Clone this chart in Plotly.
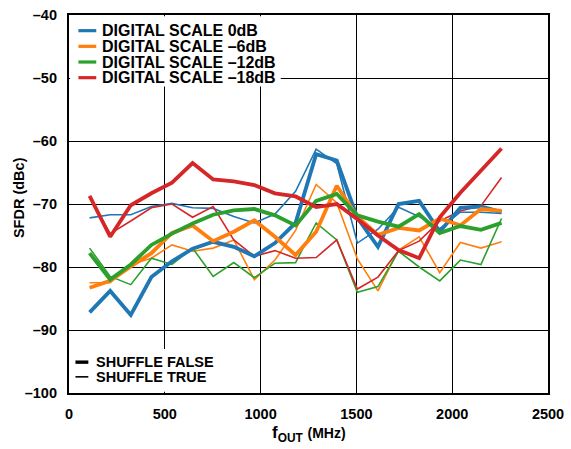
import plotly.graph_objects as go

# ---------------- data ----------------
f_out = [107.5, 215, 322.5, 430, 537.5, 645, 752.5, 860, 967.5, 1075, 1182.5,
         1290, 1397.5, 1505, 1612.5, 1720, 1827.5, 1935, 2042.5, 2150, 2257.5]

ds0_false = [-87.2, -83.8, -87.6, -81.6, -79.1, -77.1, -76.0, -76.8, -78.3, -76.2, -73.0,
             -62.1, -63.1, -72.2, -76.8, -70.0, -69.5, -74.4, -70.6, -70.4, -71.3]
ds0_true = [-72.2, -71.7, -71.7, -70.4, -69.9, -70.6, -70.7, -72.0, -73.0, -71.6, -68.0,
            -61.3, -63.6, -76.2, -74.0, -70.5, -72.0, -73.9, -71.3, -71.3, -71.5]
ds6_false = [-83.3, -82.2, -79.9, -77.8, -74.6, -73.4, -75.9, -74.4, -72.6, -75.2, -78.1,
             -74.4, -67.1, -72.0, -74.9, -73.8, -74.2, -72.3, -73.4, -70.8, -71.1]
ds6_true = [-82.5, -82.5, -79.6, -78.6, -76.5, -77.5, -77.0, -75.7, -82.0, -78.9, -74.2,
            -66.9, -69.8, -78.7, -83.8, -77.3, -75.2, -80.9, -76.1, -77.0, -76.0]
ds12_false = [-77.8, -82.0, -79.6, -76.5, -74.7, -73.1, -71.7, -71.0, -70.8, -71.8, -73.4,
              -69.5, -68.4, -71.8, -72.8, -73.6, -71.6, -74.6, -73.5, -74.1, -73.0]
ds12_true = [-77.0, -81.5, -82.8, -78.6, -79.6, -77.0, -81.5, -79.3, -81.7, -79.4, -79.3,
             -73.0, -75.7, -84.0, -83.1, -77.5, -80.0, -82.2, -78.9, -79.6, -72.3]
ds18_false = [-68.7, -75.2, -70.2, -68.3, -66.6, -63.5, -66.1, -66.4, -67.0, -68.3, -68.8,
              -70.5, -70.0, -72.4, -75.0, -77.3, -78.6, -72.1, -68.2, -64.7, -61.2]
ds18_true = [-69.0, -74.7, -72.7, -70.6, -70.0, -72.1, -70.4, -75.7, -78.3, -77.4, -78.6,
             -78.5, -75.7, -83.5, -81.6, -77.4, -75.9, -72.7, -71.1, -70.3, -65.8]

series_names = ["DIGITAL SCALE 0dB", "DIGITAL SCALE \u20136dB",
                "DIGITAL SCALE \u201312dB", "DIGITAL SCALE \u201318dB"]
shuffle_names = ["SHUFFLE FALSE", "SHUFFLE TRUE"]

y_ticks = [-40, -50, -60, -70, -80, -90, -100]
y_ticktext = ["\u201340", "\u201350", "\u201360", "\u201370", "\u201380", "\u201390", "\u2013100"]
x_ticks = [0, 500, 1000, 1500, 2000, 2500]
x_ticktext = ["0", "500", "1000", "1500", "2000", "2500"]

# ---------------- style ----------------
colors = ["#1f77b4", "#ff7f0e", "#2ca02c", "#d62728"]
THICK = 3.8
THIN = 1.6
FONT = "Liberation Sans, Arial, Helvetica, sans-serif"

false_sets = [ds0_false, ds6_false, ds12_false, ds18_false]
true_sets = [ds0_true, ds6_true, ds12_true, ds18_true]

fig = go.Figure()
for name, c, ys in zip(series_names, colors, true_sets):
    fig.add_trace(go.Scatter(x=f_out, y=ys, mode="lines", name=name + " (shuffle true)",
                             line=dict(color=c, width=THIN), showlegend=False))
for name, c, ys in zip(series_names, colors, false_sets):
    fig.add_trace(go.Scatter(x=f_out, y=ys, mode="lines", name=name + " (shuffle false)",
                             line=dict(color=c, width=THICK), showlegend=False))

# plot area in pixels (for placing the legend blocks)
L, R, T, B = 68.5, 551.5, 7.0, 393.0
W, H = 571, 449


def px(xp):
    return (xp - L) / (R - L)


def py(yp):
    return (B - yp) / (B - T)


shapes = []
annotations = []

# top legend box
shapes.append(dict(type="rect", xref="paper", yref="paper", layer="above",
                   x0=px(69.6), x1=px(282), y0=py(80), y1=py(8.2),
                   fillcolor="white", line=dict(width=0)))
row_y = [23, 39, 55, 71]
for name, c, ry in zip(series_names, colors, row_y):
    shapes.append(dict(type="line", xref="paper", yref="paper", layer="above",
                       x0=px(78), x1=px(96), y0=py(ry), y1=py(ry),
                       line=dict(color=c, width=3.2)))
    annotations.append(dict(x=px(100), y=py(ry), xref="paper", yref="paper",
                            text=name, showarrow=False, xanchor="left", yanchor="middle",
                            font=dict(family=FONT, size=16, color="black", weight="bold")))

# bottom legend box
shapes.append(dict(type="rect", xref="paper", yref="paper", layer="above",
                   x0=px(69.6), x1=px(235), y0=py(391.8), y1=py(348),
                   fillcolor="white", line=dict(width=0)))
for name, w, ry in zip(shuffle_names, [3.4, 1.6], [361.5, 376.5]):
    shapes.append(dict(type="line", xref="paper", yref="paper", layer="above",
                       x0=px(75), x1=px(88), y0=py(ry), y1=py(ry),
                       line=dict(color="black", width=w)))
    annotations.append(dict(x=px(94), y=py(ry), xref="paper", yref="paper",
                            text=name, showarrow=False, xanchor="left", yanchor="middle",
                            font=dict(family=FONT, size=14.5, color="black", weight="bold")))

# axis titles
annotations.append(dict(x=px(18), y=py(193), xref="paper", yref="paper",
                        text="SFDR (dBc)", textangle=-90, showarrow=False,
                        xanchor="center", yanchor="middle",
                        font=dict(family=FONT, size=14.5, color="black", weight="bold")))
annotations.append(dict(x=px(310), y=py(435), xref="paper", yref="paper",
                        text="f<sub>OUT</sub> <span style='font-size:14px'>(MHz)</span>",
                        showarrow=False, xanchor="center", yanchor="middle",
                        font=dict(family=FONT, size=17, color="black", weight="bold")))

axis_common = dict(showgrid=True, gridcolor="black", gridwidth=1.3,
                   showline=True, linecolor="black", linewidth=2.2, mirror=True,
                   zeroline=False, ticks="",
                   tickfont=dict(family=FONT, size=14.5, color="black", weight="bold"))

fig.update_layout(
    width=W, height=H,
    margin=dict(l=L, r=W - R, t=T, b=H - B, pad=0),
    paper_bgcolor="white", plot_bgcolor="white",
    showlegend=False,
    xaxis=dict(range=[0, 2500], tickvals=x_ticks, ticktext=x_ticktext,
               ticklabelstandoff=6, **axis_common),
    yaxis=dict(range=[-100, -40], tickvals=y_ticks, ticktext=y_ticktext,
               ticklabelstandoff=7, **axis_common),
    shapes=shapes,
    annotations=annotations,
)

fig.write_html(
    "out.html",
    config={"displayModeBar": False},
    post_script="document.documentElement.style.margin='0';"
                "document.documentElement.style.overflow='hidden';"
                "document.body.style.margin='0';"
                "document.body.style.overflow='hidden';",
)
